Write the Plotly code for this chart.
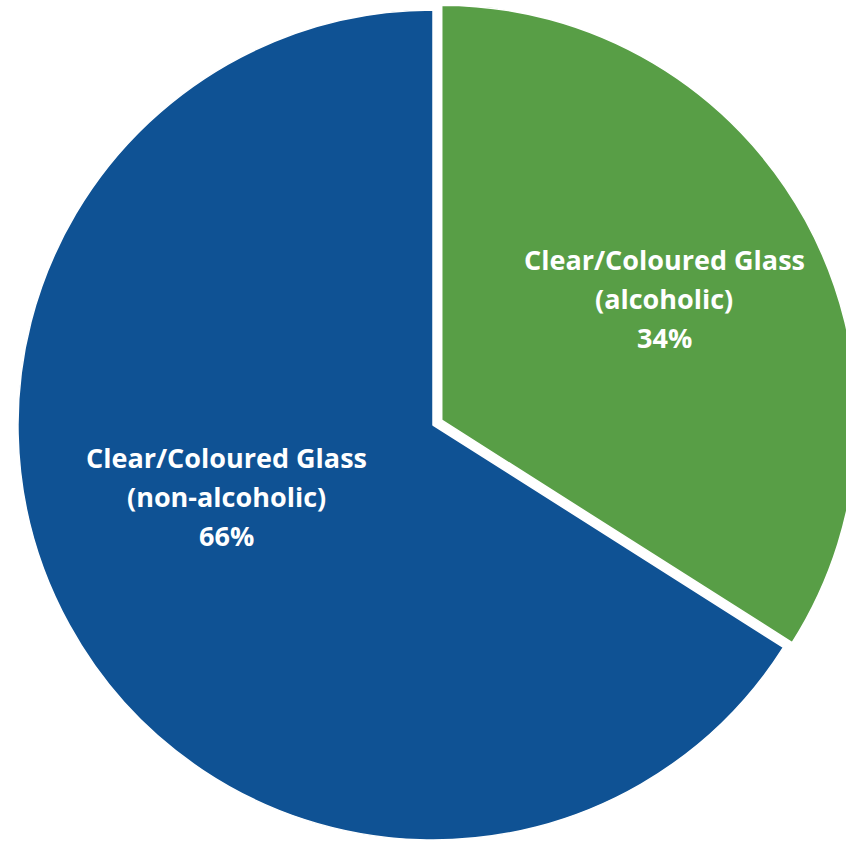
import plotly.graph_objects as go

categories = ["Clear/Coloured Glass (alcoholic)", "Clear/Coloured Glass (non-alcoholic)"]
values = [34, 66]
colors = ["#589E46", "#0F5294"]
pulls = [0.024, 0]

# label block centres (pixels, in figure coordinates) for each slice
label_px = [(664, 298.5), (226, 496.5)]

W, H = 866, 850
ML, MR = 8, 8
line_gap = 39

fig = go.Figure(go.Pie(
    labels=categories,
    values=values,
    sort=False,
    direction="clockwise",
    rotation=0,
    pull=pulls,
    marker=dict(colors=colors, line=dict(color="white", width=1.5)),
    textinfo="none",
    hoverinfo="label+percent",
    showlegend=False,
))

total = sum(values)
annotations = []
for cat, v, (cx, cy) in zip(categories, values, label_px):
    name, sub = cat.split(" (")
    lines = [name, "(" + sub, f"{round(100 * v / total)}%"]
    for j, txt in enumerate(lines):
        ypx = cy + (j - 1) * line_gap
        annotations.append(dict(
            text=txt, showarrow=False,
            xref="paper", yref="paper",
            x=(cx - ML) / (W - ML - MR), y=1 - ypx / H,
            xanchor="center", yanchor="middle",
            font=dict(family="Open Sans", size=27, color="white", weight="bold"),
        ))

fig.update_layout(
    width=W, height=H,
    margin=dict(l=ML, r=MR, t=0, b=0),
    paper_bgcolor="white",
    plot_bgcolor="white",
    annotations=annotations,
)
fig.write_html(
    "out.html",
    config={"displayModeBar": False},
    post_script="document.body.style.margin='0';document.body.style.overflow='hidden';",
)
